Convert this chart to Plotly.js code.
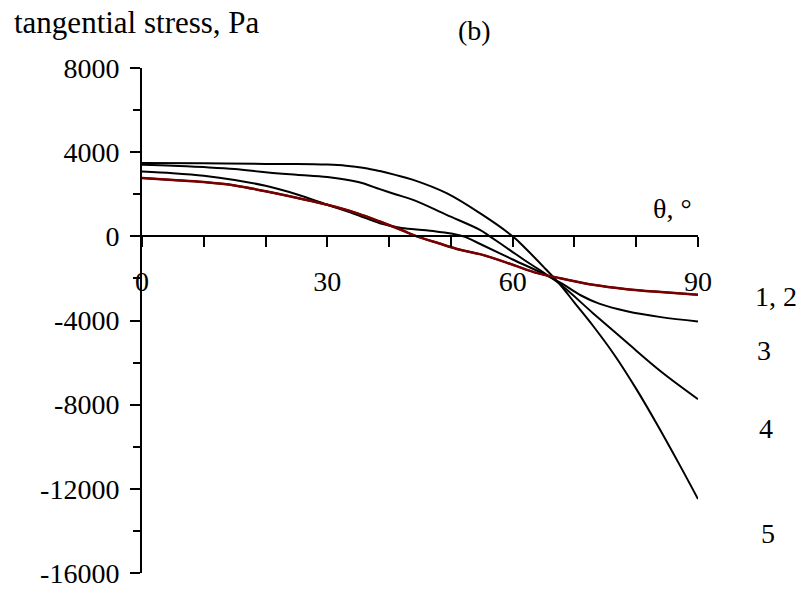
<!DOCTYPE html>
<html>
<head>
<meta charset="utf-8">
<script src="https://cdn.plot.ly/plotly-3.0.1.min.js"></script>
<style>html,body{margin:0;padding:0;background:#fff;}#chart{width:804px;height:590px;}</style>
</head>
<body>
<div id="chart"></div>
<script>
// ---- data ----
var theta1 = [0, 5, 10, 15, 20, 25, 30, 35, 38.5, 42, 44.5, 48, 51.5, 55, 60, 64, 67.7, 73, 78.5, 84, 90];
var curve1 = [2770, 2680, 2580, 2420, 2140, 1830, 1500, 1080, 703, 300, 0, -330, -641, -870, -1350, -1750, -1990, -2300, -2510, -2650, -2780];
var curve2 = [2770, 2680, 2580, 2420, 2140, 1830, 1500, 1080, 703, 300, 0, -330, -641, -870, -1350, -1750, -1990, -2300, -2510, -2650, -2780];

var theta3 = [0, 5, 10, 15, 20, 25, 30, 35, 38.5, 42, 46, 49, 52, 55, 60, 65, 68, 71, 74, 78.5, 84, 90];
var curve3 = [3080, 3000, 2880, 2680, 2400, 2000, 1500, 1000, 620, 400, 290, 180, 0, -400, -1100, -1780, -2250, -2800, -3200, -3560, -3840, -4047];

var theta4 = [0, 5, 10, 15, 20, 25, 30, 35, 38.5, 41, 44, 49.3, 54.7, 56.3, 59.5, 62, 65, 68, 73, 78.5, 84, 90];
var curve4 = [3400, 3360, 3290, 3200, 3050, 2930, 2820, 2580, 2242, 2000, 1720, 1021, 309, 0, -641, -1150, -1720, -2350, -3650, -5050, -6420, -7736];

var theta5 = [0, 10, 20, 25, 30, 33, 36, 38.5, 41, 43.9, 49.3, 54.7, 60, 62.3, 65, 67.7, 70, 73, 76.5, 80, 83.5, 87, 90];
var curve5 = [3480, 3470, 3440, 3440, 3410, 3360, 3250, 3100, 2920, 2684, 2052, 1102, 0, -641, -1450, -2300, -3150, -4250, -5650, -7250, -9000, -10850, -12486];

var xTickVals = [0, 10, 20, 30, 40, 50, 60, 70, 80, 90];
var xTickText = ['0', '', '', '30', '', '', '60', '', '', '90'];
var yTickVals = [-16000, -12000, -8000, -4000, 0, 4000, 8000];
var yTickText = ['-16000', '-12000', '-8000', '-4000', '0', '4000', '8000'];
var yMinorVals = [-14000, -10000, -6000, -2000, 2000, 6000];
var curveLabels = ['1, 2', '3', '4', '5'];

// ---- chart ----
var FONT = "'Liberation Serif', 'Times New Roman', Times, serif";
function line(x, y, color, w) {
  return {x: x, y: y, type: 'scatter', mode: 'lines',
    line: {color: color, width: w, shape: 'spline', smoothing: 1},
    hoverinfo: 'skip', showlegend: false};
}
var traces = [
  line(theta1, curve1, '#000000', 2),
  line(theta3, curve3, '#000000', 2),
  line(theta4, curve4, '#000000', 2),
  line(theta5, curve5, '#000000', 2),
  line(theta1, curve2, '#7a0000', 2.5)
];

var L = 142, R = 106, T = 68, B = 17, W = 804, H = 590;
function px(x) { return (x - L) / (W - L - R); }
function py(y) { return (H - B - y) / (H - T - B); }

var labelPos = [[776, 296], [764, 350], [766, 428], [768, 533]];
var annotations = [
  {text: 'tangential stress, Pa', x: px(12), y: py(23), xanchor: 'left', yanchor: 'middle', font: {family: FONT, size: 31}},
  {text: '(b)', x: px(474), y: py(31), xanchor: 'center', yanchor: 'middle', font: {family: FONT, size: 28}},
  {text: 'θ, °', x: px(672), y: py(208), xanchor: 'center', yanchor: 'middle', font: {family: FONT, size: 28}}
];
curveLabels.forEach(function (t, i) {
  annotations.push({text: t, x: px(labelPos[i][0]), y: py(labelPos[i][1]), xanchor: 'center', yanchor: 'middle', font: {family: FONT, size: 28}});
});
annotations.forEach(function (a) { a.xref = 'paper'; a.yref = 'paper'; a.showarrow = false; });

var layout = {
  width: W, height: H,
  margin: {l: L, r: R, t: T, b: B, pad: 0},
  paper_bgcolor: '#ffffff', plot_bgcolor: '#ffffff',
  font: {family: FONT, size: 28, color: '#000000'},
  showlegend: false,
  xaxis: {
    range: [0, 90], anchor: 'free', position: 16000 / 24000,
    showgrid: false, zeroline: false, showline: true, linecolor: '#000', linewidth: 2,
    tickmode: 'array', tickvals: xTickVals, ticktext: xTickText,
    ticks: 'outside', ticklen: 10, tickwidth: 2, tickcolor: '#000',
    ticklabelstandoff: 10, tickfont: {family: FONT, size: 28, color: '#000'}
  },
  yaxis: {
    range: [-16000, 8000], domain: [0, 1],
    showgrid: false, zeroline: false, showline: true, linecolor: '#000', linewidth: 2,
    tickmode: 'array', tickvals: yTickVals, ticktext: yTickText,
    ticks: 'outside', ticklen: 10, tickwidth: 2, tickcolor: '#000',
    ticklabelstandoff: 5, tickfont: {family: FONT, size: 28, color: '#000'},
    minor: {tickmode: 'array', tickvals: yMinorVals, ticks: 'outside', ticklen: 7, tickwidth: 2, tickcolor: '#000', showgrid: false}
  },
  annotations: annotations
};

Plotly.newPlot('chart', traces, layout, {staticPlot: true, displayModeBar: false});
</script>
</body>
</html>
